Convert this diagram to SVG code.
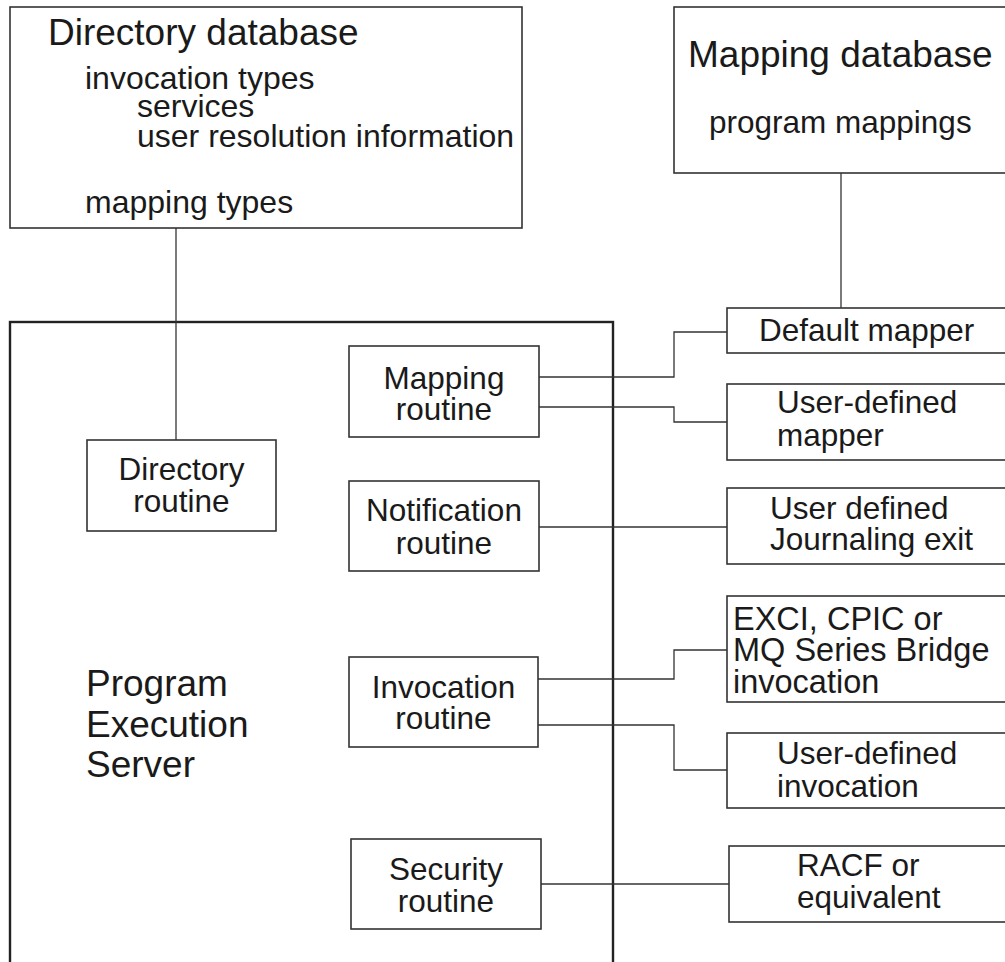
<svg xmlns="http://www.w3.org/2000/svg" width="1005" height="962" viewBox="0 0 1005 962">
<style>
.box{fill:#fff;stroke:#333;stroke-width:1.6}
.pes{fill:none;stroke:#222;stroke-width:2.4}
.con{fill:none;stroke:#333;stroke-width:1.3}
text{font-family:"Liberation Sans",Arial,sans-serif;fill:#1a1a1a;font-size:31.5px}
.t{font-size:37px}
.c{text-anchor:middle}
.b{font-size:32px}
</style>
<rect width="1005" height="962" fill="#fff"/>
<g id="pes">
<rect class="pes" x="10" y="322" width="603" height="660"/>
<text class="t" x="86" y="696">Program</text>
<text class="t" x="86" y="737">Execution</text>
<text class="t" x="86" y="777">Server</text>
</g>
<g id="connectors">
<path class="con" d="M176 228V440"/>
<path class="con" d="M841 173V308"/>
<path class="con" d="M539 377H674V332H727"/>
<path class="con" d="M539 407H674V422H727"/>
<path class="con" d="M539 527H727"/>
<path class="con" d="M538 679H674V650H727"/>
<path class="con" d="M538 725H674V770H727"/>
<path class="con" d="M541 884H729"/>
</g>
<g id="directory-db">
<rect class="box" x="10" y="7" width="512" height="221"/>
<text class="t" x="48" y="45">Directory database</text>
<text class="b" x="85" y="89">invocation types</text>
<text class="b" x="137" y="117">services</text>
<text class="b" x="137" y="147">user resolution information</text>
<text class="b" x="85" y="213">mapping types</text>
</g>
<g id="mapping-db">
<rect class="box" x="674" y="7" width="340" height="166"/>
<text class="t" x="688" y="67">Mapping database</text>
<text x="709" y="133">program mappings</text>
</g>
<g id="directory-routine">
<rect class="box" x="87" y="440" width="189" height="91"/>
<text class="c" x="181.5" y="480">Directory</text>
<text class="c" x="181.5" y="512">routine</text>
</g>
<g id="mapping-routine">
<rect class="box" x="349" y="346" width="190" height="91"/>
<text class="c" x="444" y="389">Mapping</text>
<text class="c" x="444" y="420">routine</text>
</g>
<g id="notification-routine">
<rect class="box" x="349" y="481" width="190" height="90"/>
<text class="c" x="444" y="521">Notification</text>
<text class="c" x="444" y="554">routine</text>
</g>
<g id="invocation-routine">
<rect class="box" x="349" y="657" width="189" height="90"/>
<text class="c" x="443.5" y="698">Invocation</text>
<text class="c" x="443.5" y="729">routine</text>
</g>
<g id="security-routine">
<rect class="box" x="351" y="839" width="190" height="90"/>
<text class="c" x="446" y="880">Security</text>
<text class="c" x="446" y="912">routine</text>
</g>
<g id="default-mapper">
<rect class="box" x="727" y="308" width="290" height="45"/>
<text x="759" y="341">Default mapper</text>
</g>
<g id="user-defined-mapper">
<rect class="box" x="727" y="384" width="290" height="76"/>
<text x="777" y="413">User-defined</text>
<text x="777" y="446">mapper</text>
</g>
<g id="journaling-exit">
<rect class="box" x="727" y="488" width="290" height="76"/>
<text x="770" y="519">User defined</text>
<text x="770" y="550">Journaling exit</text>
</g>
<g id="exci-invocation">
<rect class="box" x="727" y="596" width="290" height="106"/>
<text x="733" y="630" style="font-size:32.5px">EXCI, CPIC or</text>
<text x="733" y="661" style="font-size:32.5px">MQ Series Bridge</text>
<text x="733" y="693" style="font-size:32.5px">invocation</text>
</g>
<g id="user-defined-invocation">
<rect class="box" x="727" y="733" width="290" height="75"/>
<text x="777" y="764">User-defined</text>
<text x="777" y="797">invocation</text>
</g>
<g id="racf">
<rect class="box" x="729" y="846" width="290" height="76"/>
<text x="797" y="876">RACF or</text>
<text x="797" y="908">equivalent</text>
</g>
</svg>
